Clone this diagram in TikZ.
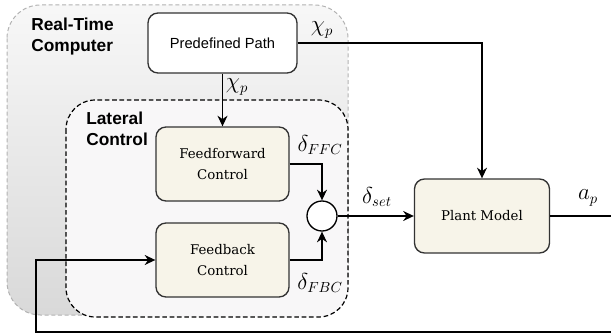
\documentclass[tikz,border=0pt]{standalone}
\usepackage{fontspec}
\newfontfamily\arialfont{Liberation Sans}
\newfontfamily\boxfont{DejaVu Serif}
\usetikzlibrary{arrows.meta}

\definecolor{blockfill}{RGB}{247,244,233}
\definecolor{lateralfill}{RGB}{248,247,248}

\begin{document}
\begin{tikzpicture}[x=0.75pt,y=0.75pt,yscale=-1,xscale=1,
  block/.style={draw=black!80, fill=blockfill, rounded corners=7.5pt, line width=1pt, align=center, inner sep=0pt,
    font=\boxfont\fontsize{10}{16}\selectfont, minimum width=99.75pt, minimum height=55.5pt},
  conn/.style={line width=0.9pt, -{Stealth[length=8pt,width=7.5pt]}},
  sig/.style={inner sep=0.75pt, font=\fontsize{16}{18}\selectfont},
  grouplabel/.style={anchor=north west, inner sep=0.75pt, align=left, font=\arialfont\bfseries\fontsize{13}{15.5}\selectfont}]
\useasboundingbox (0,0) rectangle (611,335);

%Shape: Rounded Rectangle (real-time computer)
\draw[gray!60, dash pattern=on 3pt off 2pt, line width=0.75pt, rounded corners=25pt, top color=gray!6, bottom color=gray!30] (7,5) rectangle (348,315);
%Shape: Rounded Rectangle (lateral control)
\draw[black, dash pattern=on 3.5pt off 2pt, line width=0.9pt, fill=lateralfill, rounded corners=22pt] (66,100) rectangle (348,317);

% Blocks
\node[block, fill=white, font=\arialfont\fontsize{11}{13}\selectfont, minimum width=111.75pt, minimum height=45pt] (path) at (222.5,43) {Predefined Path};
\node[block] (ffc) at (222.5,164) {Feedforward\\Control};
\node[block] (fbc) at (222.5,260) {Feedback\\Control};
\node[draw, circle, fill=white, line width=1pt, minimum size=22.5pt, inner sep=0pt] (sum) at (322,216) {};
\node[block, minimum width=101.25pt] (plant) at (482,216) {Plant Model};

\coordinate (out) at (611,216);
\coordinate (ret) at (611,332);
\coordinate (back) at (36,332);

% Connectors
\draw[conn] (path.east) -| (plant.north);
\draw[conn] (path.south) -- (ffc.north);
\draw[conn] (ffc.east) -| (sum.north);
\draw[conn] (fbc.east) -| (sum.south);
\draw[conn] (sum.east) -- (plant.west);
\draw[line width=0.9pt] (plant.east) -- (out);
\draw[conn] (ret) -- (back) |- (fbc.west);

% Text Node
\node[sig] (chi1) at (322,30) {$\chi_p$};
\node[sig] (chi2) at (237,87) {$\chi_p$};
\node[sig] (dffc) at (320,145) {$\delta_{FFC}$};
\node[sig] (dfbc) at (320,283) {$\delta_{FBC}$};
\node[sig] (dset) at (377,197) {$\delta_{set}$};
\node[sig] (ap) at (588,198) {$a_p$};
% Text Node
\node[grouplabel] (rtc) at (30,17) {Real-Time\\Computer};
\node[grouplabel] (lat) at (85,111) {Lateral\\Control};

\end{tikzpicture}
\end{document}
